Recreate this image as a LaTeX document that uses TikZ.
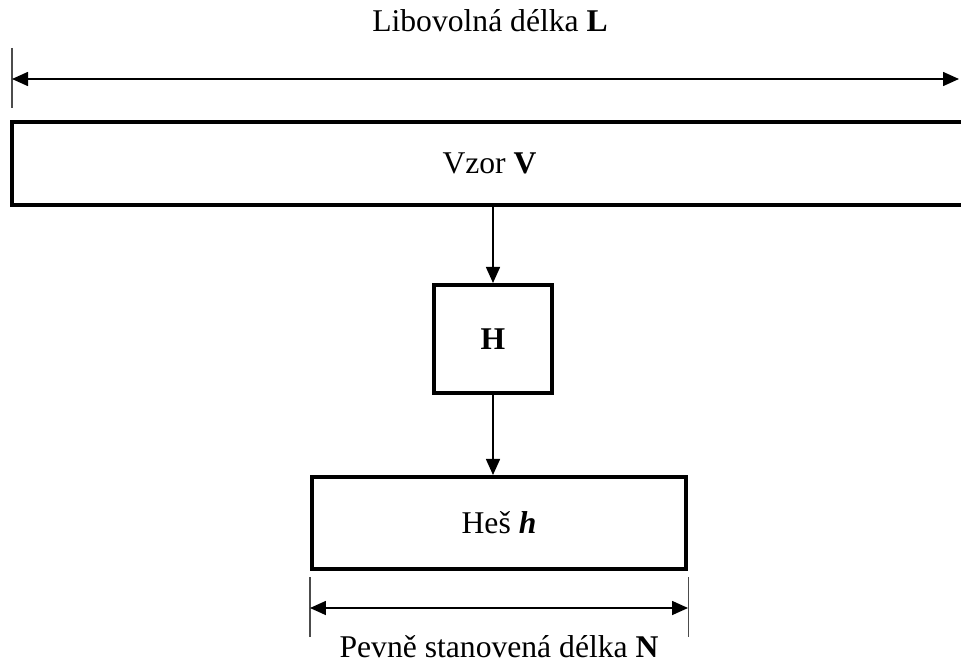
\documentclass[tikz,border=0pt]{standalone}
\usepackage{fontspec}
\setmainfont{Liberation Serif}
\usetikzlibrary{arrows.meta}

\begin{document}
\begin{tikzpicture}[
  box/.style={draw=black, line width=2.3pt, rectangle, inner sep=0pt, font=\fontsize{18}{22}\selectfont},
  link/.style={draw=black, line width=0.9pt, -{Triangle[length=0.32cm, width=0.28cm]}},
  dimline/.style={draw=black, line width=0.9pt, {Triangle[length=0.32cm, width=0.28cm]}-{Triangle[length=0.32cm, width=0.28cm]}},
  tick/.style={draw=black!70, line width=0.6pt},
  caption/.style={font=\fontsize{18}{22}\selectfont, inner sep=0pt}
]
\useasboundingbox (0,0) rectangle (19.22,-13.28);
% texts
\node[caption] (length L) at (9.8,-0.42) {Libovolná délka \textbf{L}};
\node[caption] (length N) at (9.98,-12.94) {Pevně stanovená délka \textbf{N}};
% boxes
\node[box, minimum width=19.1cm, minimum height=1.66cm] (pattern V) at (9.79,-3.27) {Vzor \textbf{V}};
\node[box, minimum width=2.36cm, minimum height=2.16cm] (hash H) at (9.86,-6.78) {\textbf{H}};
\node[box, minimum width=7.48cm, minimum height=1.84cm] (hash h) at (9.98,-10.46) {Heš \textbf{\textit{h}}};
% arrows between boxes
\draw[link] (pattern V.south -| hash H.north) -- (hash H.north);
\draw[link] (hash H.south) -- (hash H.south |- hash h.north);
% dimension of V
\coordinate (L tick top) at (0.24,-0.96);
\coordinate (L tick bottom) at (0.24,-2.16);
\coordinate (L left) at (0.24,-1.58);
\coordinate (L right) at (19.18,-1.58);
\draw[tick] (L tick top) -- (L tick bottom);
\draw[dimline] (L left) -- (L right);
% dimension of h
\coordinate (N tick left top) at (hash h.south west |- 0,-11.54);
\coordinate (N tick left bottom) at (hash h.south west |- 0,-12.74);
\coordinate (N tick right top) at (hash h.south east |- 0,-11.54);
\coordinate (N tick right bottom) at (hash h.south east |- 0,-12.74);
\draw[tick] (N tick left top) -- (N tick left bottom);
\draw[tick] (N tick right top) -- (N tick right bottom);
\draw[dimline] (hash h.south west |- 0,-12.16) -- (hash h.south east |- 0,-12.16);
\end{tikzpicture}
\end{document}
